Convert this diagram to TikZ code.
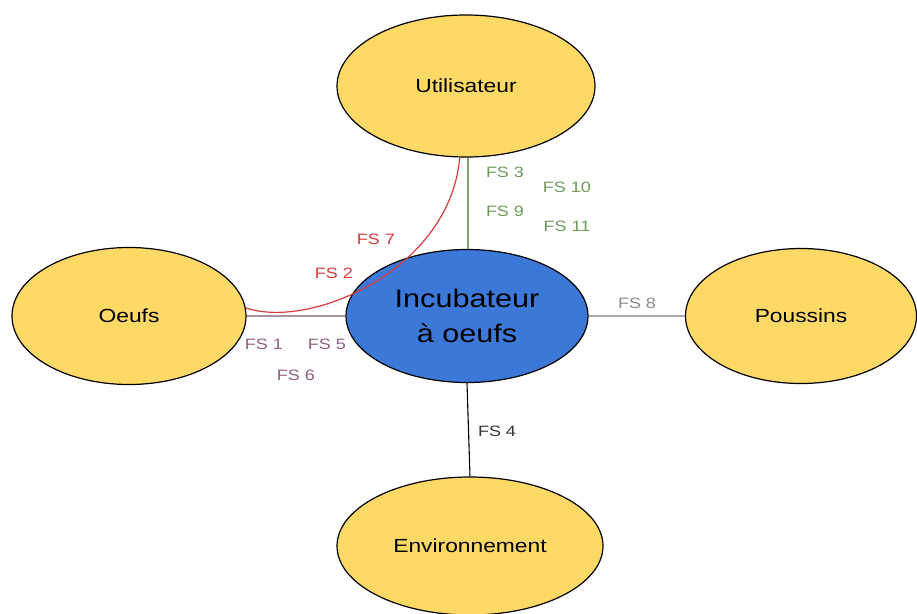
\documentclass[tikz,border=0pt]{standalone}
\usepackage{fontspec}
\setmainfont{Liberation Sans}[FakeStretch=1.2]
\usetikzlibrary{shapes.geometric}
\definecolor{ylw}{HTML}{FFD966}
\definecolor{blu}{HTML}{3C78D8}
\definecolor{grn}{HTML}{6E9A5A}
\definecolor{grnline}{HTML}{7FA36C}
\definecolor{rd}{HTML}{D93A3A}
\definecolor{mauve}{HTML}{8E5F80}
\definecolor{mauveline}{HTML}{A8949F}
\definecolor{gry}{HTML}{8A8A8A}
\definecolor{gryline}{HTML}{ABABAB}
\tikzset{
  actor/.style={ellipse, draw=black, line width=1.2pt, fill=ylw, inner sep=0pt, font=\fontsize{19}{22}\selectfont},
  core/.style={ellipse, draw=black, line width=1.2pt, fill=blu, inner sep=0pt, align=center, font=\fontsize{25.5}{35}\selectfont},
  lbl/.style={font=\fontsize{15}{18}\selectfont, inner sep=0pt},
}
\begin{document}
\begin{tikzpicture}[x=1pt,y=-1pt]
\useasboundingbox (0,0) rectangle (917,613);
\node[actor, minimum width=258pt, minimum height=142pt] (util) at (466,86) {Utilisateur};
\node[actor, minimum width=234pt, minimum height=137pt] (oeufs) at (129,316) {Oeufs};
\node[actor, minimum width=231pt, minimum height=135pt] (pous) at (801,316) {Poussins};
\node[actor, minimum width=266pt, minimum height=138pt] (env) at (470,546) {Environnement};
\node[core, minimum width=242pt, minimum height=133pt] (inc) at (467,316) {Incubateur\\à oeufs};
% connectors (drawn behind by ordering on background via redraw)
\begin{scope}[on background layer/.try]
\end{scope}
\draw[grnline, line width=1.6pt] (util.south -| 468,0) -- (inc.north -| 468,0);
\draw[mauveline, line width=2pt] (oeufs.east) -- (inc.west);
\draw[gryline, line width=2pt] (inc.east) -- (pous.west);
\draw[black, line width=1.1pt] (inc.south) -- (env.north);
\draw[rd, line width=1.2pt] (oeufs.4) .. controls (310,330) and (450,270) .. (util.-95);
% labels
\node[lbl, text=grn] (l3) at (505,172) {FS 3};
\node[lbl, text=grn] (l10) at (567,187) {FS 10};
\node[lbl, text=grn] (l9) at (505,211) {FS 9};
\node[lbl, text=grn] (l11) at (567,226) {FS 11};
\node[lbl, text=rd] (l7) at (376,239) {FS 7};
\node[lbl, text=rd] (l2) at (334,273) {FS 2};
\node[lbl, text=mauve] (l1) at (264,344) {FS 1};
\node[lbl, text=mauve] (l5) at (327,344) {FS 5};
\node[lbl, text=mauve] (l6) at (296,375) {FS 6};
\node[lbl, text=gry] (l8) at (637,303) {FS 8};
\node[lbl, text=black!80] (l4) at (497,431) {FS 4};
\end{tikzpicture}
\end{document}
